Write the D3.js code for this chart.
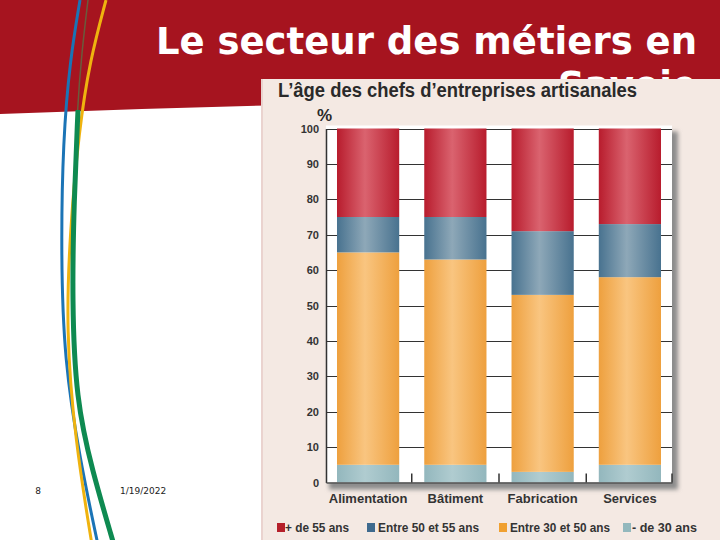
<!DOCTYPE html>
<html><head><meta charset="utf-8">
<script src="https://cdn.jsdelivr.net/npm/d3@7"></script>
<style>html,body{margin:0;padding:0;background:#fff;}svg{display:block;}</style>
</head><body>
<svg id="c" width="720" height="540"></svg>
<script>
const categories = ["Alimentation", "Bâtiment", "Fabrication", "Services"];
const seriesNames = ["- de 30 ans", "Entre 30 et 50 ans", "Entre 50 et 55 ans", "+ de 55 ans"];
const moins30 = [5, 5, 3, 5];
const entre30_50 = [60, 58, 50, 53];
const entre50_55 = [10, 12, 18, 15];
const plus55 = [25, 25, 29, 27];
const yTicks = [0, 10, 20, 30, 40, 50, 60, 70, 80, 90, 100];
const legendLabels = ["+ de 55 ans", "Entre 50 et 55 ans", "Entre 30 et 50 ans", "- de 30 ans"];

const seriesValues = [moins30, entre30_50, entre50_55, plus55];
const table = categories.map((c, i) => {
  const o = {cat: c};
  seriesNames.forEach((s, k) => o[s] = seriesValues[k][i]);
  return o;
});

const colors = {
  "- de 30 ans": {edge: "#93b7bd", mid: "#b0ccd0", sw: "#93b8bd"},
  "Entre 30 et 50 ans": {edge: "#eea03e", mid: "#f9c580", sw: "#f0a030"},
  "Entre 50 et 55 ans": {edge: "#48728f", mid: "#8ea8b8", sw: "#3e6a8e"},
  "+ de 55 ans": {edge: "#b81c2d", mid: "#da636f", sw: "#b5202a"}
};

const svg = d3.select("#c");
const defs = svg.append("defs");
seriesNames.forEach((s, k) => {
  const g = defs.append("linearGradient").attr("id", "g" + k).attr("x1", "0").attr("x2", "1").attr("y1", "0").attr("y2", "0");
  g.append("stop").attr("offset", "0").attr("stop-color", colors[s].edge);
  g.append("stop").attr("offset", "0.45").attr("stop-color", colors[s].mid);
  g.append("stop").attr("offset", "1").attr("stop-color", colors[s].edge);
});
const f = defs.append("filter").attr("id", "blur").attr("x", "-10%").attr("y", "-10%").attr("width", "120%").attr("height", "120%");
f.append("feGaussianBlur").attr("stdDeviation", 2);

// ---- slide decoration ----
svg.append("path")
  .attr("d", "M0,0 L720,0 L720,100 Q360,100 0,114 Z")
  .attr("fill", "#a6141f");

const line = d3.line().curve(d3.curveBasis);
const deco = [
  {pts: [[88, 0], [82, 50], [77, 110], [74, 200]], c: "#6b5b3c", w: 1.5},
  {pts: [[80, 0], [70, 60], [63, 140], [61, 250], [64, 360], [80, 460], [98, 545]], c: "#1b74b6", w: 3},
  {pts: [[106, 0], [90, 60], [79, 130], [70, 230], [66, 330], [75, 440], [92, 545]], c: "#efb30f", w: 3},
  {pts: [[78, 110], [74, 200], [72, 300], [76, 400], [92, 470], [114, 545]], c: "#0e8a51", w: 5}
];
deco.forEach(d => svg.append("path").attr("d", line(d.pts)).attr("fill", "none").attr("stroke", d.c).attr("stroke-width", d.w));

svg.append("text").attr("x", 697).attr("y", 54).attr("text-anchor", "end")
  .attr("font-family", "DejaVu Sans").attr("font-weight", "bold").attr("font-size", 37).attr("fill", "#fff")
  .text("Le secteur des métiers en");
svg.append("text").attr("x", 697).attr("y", 98).attr("text-anchor", "end")
  .attr("font-family", "DejaVu Sans").attr("font-weight", "bold").attr("font-size", 37).attr("fill", "#fff")
  .text("Savoie");

svg.append("text").attr("x", 38).attr("y", 494).attr("text-anchor", "middle")
  .attr("font-family", "DejaVu Sans").attr("font-size", 9).attr("fill", "#222").text("8");
svg.append("text").attr("x", 120).attr("y", 494)
  .attr("font-family", "DejaVu Sans").attr("font-size", 9).attr("fill", "#222").text("1/19/2022");

// ---- chart panel ----
svg.append("rect").attr("x", 261).attr("y", 79).attr("width", 459).attr("height", 461).attr("fill", "#f4e9e3");
svg.append("rect").attr("x", 261).attr("y", 79).attr("width", 2).attr("height", 461).attr("fill", "#ead3cf");

const FN = "'Liberation Sans Narrow', 'Liberation Sans', sans-serif";
svg.append("text").attr("x", 278).attr("y", 97).attr("font-family", FN).attr("font-weight", "bold")
  .attr("font-size", 20).attr("fill", "#2a2a2a")
  .attr("textLength", 359).attr("lengthAdjust", "spacingAndGlyphs")
  .text("L’âge des chefs d’entreprises artisanales");
svg.append("text").attr("x", 317).attr("y", 121).attr("font-family", FN).attr("font-weight", "bold")
  .attr("font-size", 17).attr("fill", "#2a2a2a").text("%");

const x = d3.scaleBand().domain(categories).range([326, 672]).paddingInner(0.287).paddingOuter(0.126);
const y = d3.scaleLinear().domain([0, 100]).range([482.5, 128.5]);
const [x0, x1] = x.range();
const [yb, yt] = y.range();

// plot shadow + white background
svg.append("rect").attr("x", x0 + 3).attr("y", yt + 3).attr("width", x1 - x0 + 3).attr("height", yb - yt + 4)
  .attr("fill", "#8c8c8c").attr("filter", "url(#blur)");
svg.append("rect").attr("x", x0).attr("y", yt - 3).attr("width", x1 - x0).attr("height", yb - yt + 3).attr("fill", "#fff");

// gridlines
svg.append("g").selectAll("line").data(yTicks.filter(t => t > 0)).join("line")
  .attr("x1", x0).attr("x2", x1).attr("y1", d => Math.round(y(d)) + 0.5).attr("y2", d => Math.round(y(d)) + 0.5)
  .attr("stroke", "#333").attr("stroke-width", 1.2);

// bars
const stack = d3.stack().keys(seriesNames)(table);
svg.append("g").selectAll("g").data(stack).join("g")
  .attr("fill", (d, k) => `url(#g${k})`)
  .selectAll("rect").data(d => d).join("rect")
  .attr("x", d => x(d.data.cat)).attr("width", x.bandwidth())
  .attr("y", d => y(d[1])).attr("height", d => y(d[0]) - y(d[1]));

// y axis
const yAxis = svg.append("g").attr("transform", `translate(${x0},0)`)
  .call(d3.axisLeft(y).tickValues(yTicks).tickSize(0).tickPadding(7));
yAxis.select(".domain").attr("stroke", "#333").attr("stroke-width", 1.5);
yAxis.selectAll("text").attr("font-family", FN).attr("font-weight", "bold").attr("font-size", 11).attr("fill", "#333");

// x axis
const xAxis = svg.append("g").attr("transform", `translate(0,${yb})`)
  .call(d3.axisBottom(x).tickSize(0).tickPadding(11));
xAxis.select(".domain").attr("stroke", "#555").attr("stroke-width", 1.5);
xAxis.selectAll("text").attr("font-family", FN).attr("font-weight", "bold").attr("font-size", 13).attr("fill", "#333");
// boundary ticks
const bounds = categories.map(c => x(c) + x.bandwidth() + x.step() * x.paddingInner() / 2);
bounds[bounds.length - 1] = x1;
svg.append("g").selectAll("line").data(bounds).join("line")
  .attr("x1", d => d).attr("x2", d => d).attr("y1", yb - 9).attr("y2", yb)
  .attr("stroke", "#333").attr("stroke-width", 1.5);

// legend
const legX = [277, 367, 499, 623];
const legW = [64, 101, 100, 65];
const lg = svg.append("g").selectAll("g").data(legendLabels).join("g")
  .attr("transform", (d, i) => `translate(${legX[i]},523)`);
lg.append("rect").attr("width", 8).attr("height", 9).attr("fill", d => colors[d].sw);
lg.append("text").attr("x", d => d === "+ de 55 ans" ? 8 : (d === "- de 30 ans" ? 9 : 11)).attr("y", 9)
  .attr("font-family", FN).attr("font-weight", "bold")
  .attr("font-size", 13).attr("fill", "#333")
  .attr("textLength", (d, i) => legW[i]).attr("lengthAdjust", "spacingAndGlyphs")
  .text(d => d);
</script>
</body></html>
